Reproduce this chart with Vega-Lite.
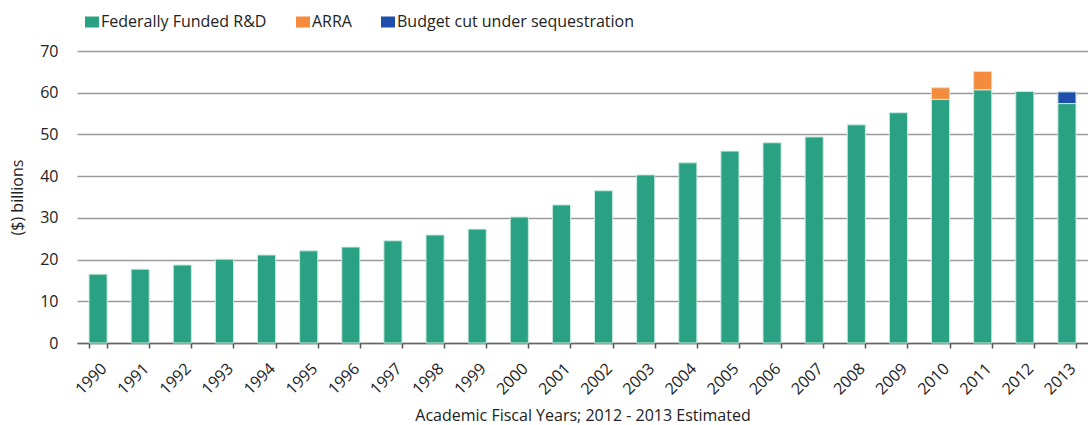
{
  "$schema": "https://vega.github.io/schema/vega-lite/v6.json",
  "width": 1011,
  "height": 292,
  "autosize": {"type": "none"},
  "padding": {"left": 77, "top": 51, "right": 0, "bottom": 82},
  "background": "white",
  "config": {
    "font": "Open Sans",
    "view": {"stroke": null}
  },
  "data": {
    "values": [
      {"year": "1990", "series": "Federally Funded R&D", "value": 16.5},
      {"year": "1991", "series": "Federally Funded R&D", "value": 17.7},
      {"year": "1992", "series": "Federally Funded R&D", "value": 18.7},
      {"year": "1993", "series": "Federally Funded R&D", "value": 20.1},
      {"year": "1994", "series": "Federally Funded R&D", "value": 21.1},
      {"year": "1995", "series": "Federally Funded R&D", "value": 22.1},
      {"year": "1996", "series": "Federally Funded R&D", "value": 23.0},
      {"year": "1997", "series": "Federally Funded R&D", "value": 24.5},
      {"year": "1998", "series": "Federally Funded R&D", "value": 25.9},
      {"year": "1999", "series": "Federally Funded R&D", "value": 27.3},
      {"year": "2000", "series": "Federally Funded R&D", "value": 30.2},
      {"year": "2001", "series": "Federally Funded R&D", "value": 33.1},
      {"year": "2002", "series": "Federally Funded R&D", "value": 36.5},
      {"year": "2003", "series": "Federally Funded R&D", "value": 40.3},
      {"year": "2004", "series": "Federally Funded R&D", "value": 43.2},
      {"year": "2005", "series": "Federally Funded R&D", "value": 46.0},
      {"year": "2006", "series": "Federally Funded R&D", "value": 48.0},
      {"year": "2007", "series": "Federally Funded R&D", "value": 49.4},
      {"year": "2008", "series": "Federally Funded R&D", "value": 52.3},
      {"year": "2009", "series": "Federally Funded R&D", "value": 55.2},
      {"year": "2010", "series": "Federally Funded R&D", "value": 58.4},
      {"year": "2010", "series": "ARRA", "value": 2.8},
      {"year": "2011", "series": "Federally Funded R&D", "value": 60.7},
      {"year": "2011", "series": "ARRA", "value": 4.4},
      {"year": "2012", "series": "Federally Funded R&D", "value": 60.3},
      {"year": "2013", "series": "Federally Funded R&D", "value": 57.4},
      {"year": "2013", "series": "Budget cut under sequestration", "value": 2.8}
    ]
  },
  "mark": {"type": "bar", "stroke": "#c8ebe0", "strokeWidth": 1},
  "encoding": {
    "x": {
      "field": "year",
      "type": "ordinal",
      "scale": {"paddingInner": 0.57, "paddingOuter": 0.285},
      "axis": {
        "title": "Academic Fiscal  Years; 2012 - 2013 Estimated",
        "titleFontSize": 16,
        "titleFontWeight": "normal",
        "titleColor": "#222",
        "titlePadding": 10,
        "labelAngle": -45,
        "labelFontSize": 16,
        "labelColor": "#222",
        "labelPadding": 12,
        "tickBand": "extent",
        "tickSize": 5,
        "tickColor": "#555",
        "tickWidth": 1.5,
        "domainColor": "#666",
        "domainWidth": 1.5
      }
    },
    "y": {
      "field": "value",
      "type": "quantitative",
      "stack": "zero",
      "scale": {"domain": [0, 70], "nice": false},
      "axis": {
        "title": "($) billions",
        "titleFontSize": 16,
        "titleFontWeight": "normal",
        "titleColor": "#222",
        "titlePadding": 14,
        "values": [0, 10, 20, 30, 40, 50, 60, 70],
        "labelFontSize": 16,
        "labelColor": "#222",
        "labelPadding": 19,
        "ticks": false,
        "domain": false,
        "gridColor": "#9a9a9a",
        "gridWidth": 1.5
      }
    },
    "color": {
      "field": "series",
      "type": "nominal",
      "scale": {
        "domain": ["Federally Funded R&D", "ARRA", "Budget cut under sequestration"],
        "range": ["#2aa182", "#f58b3c", "#1f4fad"]
      },
      "legend": {
        "title": null,
        "orient": "none",
        "direction": "horizontal",
        "legendX": 7,
        "legendY": -37,
        "padding": 0,
        "symbolType": "M-1,-0.786H1V0.786H-1Z",
        "symbolSize": 196,
        "symbolStrokeWidth": 0,
        "labelFontSize": 16,
        "labelColor": "#222",
        "labelOffset": 1,
        "labelLimit": 400,
        "columnPadding": 28
      }
    },
    "order": {"field": "series", "sort": "descending"}
  }
}
